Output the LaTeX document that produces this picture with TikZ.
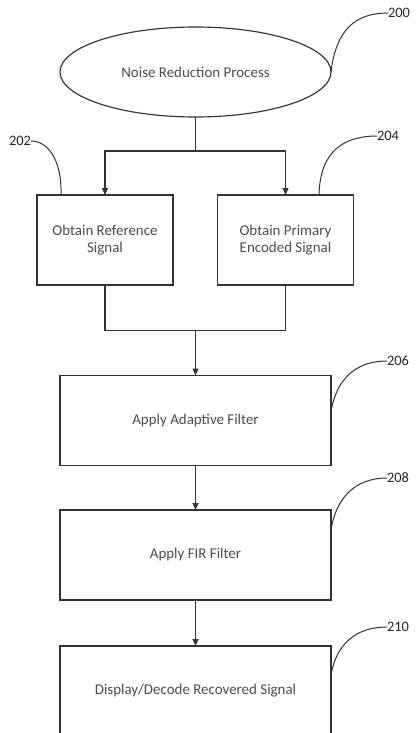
\documentclass[tikz,border=0pt]{standalone}
\usepackage{fontspec}
\setmainfont{Carlito}
\usetikzlibrary{arrows.meta,shapes.geometric}
\begin{document}
\begin{tikzpicture}[x=1bp,y=-1bp,
  line width=1.15bp,
  every node/.style={inner sep=0pt,outer sep=0pt},
  txt/.style={font=\fontsize{15}{17.5}\selectfont,text=black!70,align=center},
  proc/.style={draw=black!80,txt,minimum width=271bp,minimum height=90bp},
  half/.style={draw=black!80,txt,minimum width=136bp,minimum height=90bp},
  oval/.style={draw=black!80,ellipse,txt,minimum width=271bp,minimum height=90bp},
  ref/.style={font=\fontsize{14.5}{17}\selectfont,text=black!85},
  lead/.style={draw=black!80,line width=1bp},
  flow/.style={draw=black!80,-{Triangle[width=6bp,length=7bp]}},
  wire/.style={draw=black!80}]
\clip (0,0) rectangle (416,733);
\fill[white] (0,0) rectangle (416,733);

% process steps
\node[oval] (start) at (195.5,72) {Noise Reduction Process};
\node[half] (refsig) at (105,240) {Obtain Reference\\Signal};
\node[half] (prisig) at (285.5,240) {Obtain Primary\\Encoded Signal};
\node[proc] (adapt) at (195.5,420.5) {Apply Adaptive Filter};
\node[proc] (fir) at (195.5,555) {Apply FIR Filter};
\node[proc] (disp) at (195.5,691) {Display/Decode Recovered Signal};

% split and join
\coordinate (split) at (195.5,151);
\coordinate (join) at (195.5,330.5);
\draw[wire] (start.south) -- (split);
\draw[flow] (split) -| (refsig.north);
\draw[flow] (split) -| (prisig.north);
\draw[wire] (refsig.south) |- (join);
\draw[wire] (prisig.south) |- (join);
\draw[flow] (join) -- (adapt.north);
\draw[flow] (adapt.south) -- (fir.north);
\draw[flow] (fir.south) -- (disp.north);

% reference numerals
\node[ref,anchor=west] (n200) at (388,13) {200};
\node[ref,anchor=west] (n202) at (9,141) {202};
\node[ref,anchor=west] (n204) at (377,136) {204};
\node[ref,anchor=west] (n206) at (387,361) {206};
\node[ref,anchor=west] (n208) at (387,478) {208};
\node[ref,anchor=west] (n210) at (387,627) {210};

\draw[lead] (start.east) .. controls (336,30) and (355,13) .. (n200.west);
\draw[lead] (n202.east) .. controls (48,141) and (62,160) .. (61,195);
\draw[lead] (n204.west) .. controls (345,136) and (320,150) .. (319,195);
\draw[lead] (331,412) .. controls (336,380) and (355,361) .. (n206.west);
\draw[lead] (331,530) .. controls (336,498) and (355,478) .. (n208.west);
\draw[lead] (331,675) .. controls (336,645) and (355,627) .. (n210.west);
\end{tikzpicture}
\end{document}
